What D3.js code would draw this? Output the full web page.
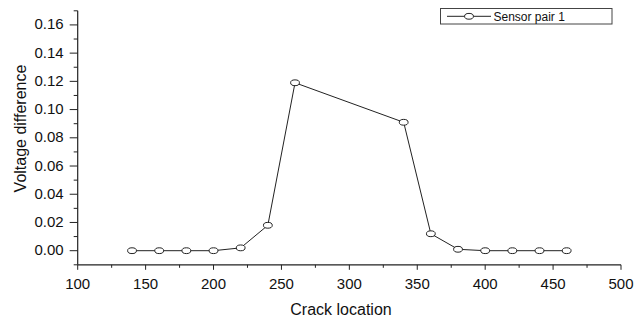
<!DOCTYPE html>
<html><head><meta charset="utf-8">
<script src="https://cdn.jsdelivr.net/npm/d3@7"></script>
<style>body{margin:0;background:#fff;} svg{display:block;font-family:"Liberation Sans",Arial,sans-serif;}</style>
</head><body><svg id="c" width="643" height="320"></svg>
<script>
const crackLocation = [140,160,180,200,220,240,260,340,360,380,400,420,440,460];
const voltageDiff = [0,0,0,0,0.002,0.018,0.119,0.091,0.012,0.001,0,0,0,0];
const xTicks = [100,150,200,250,300,350,400,450,500];
const yTicks = [0,0.02,0.04,0.06,0.08,0.10,0.12,0.14,0.16];
const seriesName = "Sensor pair 1";

const svg = d3.select("#c");
const x = d3.scaleLinear().domain([100,500]).range([77.7,621]);
const y = d3.scaleLinear().domain([-0.01,0.17]).range([264.8,10.8]);
const col = "#222";

// x axis
const gx = svg.append("g").attr("transform",`translate(0,${y(-0.01)})`);
gx.append("line").attr("x1",x(100)).attr("x2",x(500)).attr("stroke",col).attr("stroke-width",1.2);
const xMinor = d3.range(100,501,25);
gx.selectAll(".xm").data(xMinor).join("line")
  .attr("x1",d=>x(d)).attr("x2",d=>x(d)).attr("y1",0)
  .attr("y2",d=>xTicks.includes(d)?5:3).attr("stroke",col).attr("stroke-width",1);
gx.selectAll(".xl").data(xTicks).join("text")
  .attr("x",d=>x(d)).attr("y",24.5).attr("text-anchor","middle")
  .attr("font-size",15).attr("fill","#111").text(d=>d);

// y axis
const gy = svg.append("g").attr("transform",`translate(${x(100)},0)`);
gy.append("line").attr("y1",y(-0.01)).attr("y2",y(0.17)).attr("stroke",col).attr("stroke-width",1.2);
const yMinor = d3.range(-1,18).map(i=>i/100);
gy.selectAll(".ym").data(yMinor).join("line")
  .attr("y1",d=>y(d)).attr("y2",d=>y(d)).attr("x1",0)
  .attr("x2",(d,i)=>((i-1)%2===0 && i>=1)?-8:-4).attr("stroke",col).attr("stroke-width",1);
gy.selectAll(".yl").data(yTicks).join("text")
  .attr("x",-14).attr("y",d=>y(d)+4.5).attr("text-anchor","end")
  .attr("font-size",15).attr("fill","#111").text(d=>d.toFixed(2));

// titles
svg.append("text").attr("x",341).attr("y",314.5).attr("text-anchor","middle")
  .attr("font-size",16).attr("fill","#111").text("Crack location");
svg.append("text").attr("transform","translate(25.5,128.5) rotate(-90)").attr("text-anchor","middle")
  .attr("font-size",16).attr("fill","#111").text("Voltage difference");

// series
const pts = crackLocation.map((c,i)=>[c,voltageDiff[i]]);
svg.append("path").datum(pts)
  .attr("d",d3.line().x(d=>x(d[0])).y(d=>y(d[1])))
  .attr("fill","none").attr("stroke",col).attr("stroke-width",1);
svg.selectAll(".pt").data(pts).join("ellipse")
  .attr("cx",d=>x(d[0])).attr("cy",d=>y(d[1])).attr("rx",4.4).attr("ry",2.9)
  .attr("fill","#fff").attr("stroke",col).attr("stroke-width",1);

// legend
const lg = svg.append("g");
lg.append("rect").attr("x",440.5).attr("y",8.5).attr("width",171.5).attr("height",15.5)
  .attr("fill","#fff").attr("stroke","#444").attr("stroke-width",1);
lg.append("line").attr("x1",447).attr("x2",491).attr("y1",16.3).attr("y2",16.3).attr("stroke",col);
lg.append("ellipse").attr("cx",469).attr("cy",16.3).attr("rx",4.4).attr("ry",2.9)
  .attr("fill","#fff").attr("stroke",col);
lg.append("text").attr("x",493.5).attr("y",20.5).attr("font-size",12).attr("fill","#111").text(seriesName);
</script></body></html>
